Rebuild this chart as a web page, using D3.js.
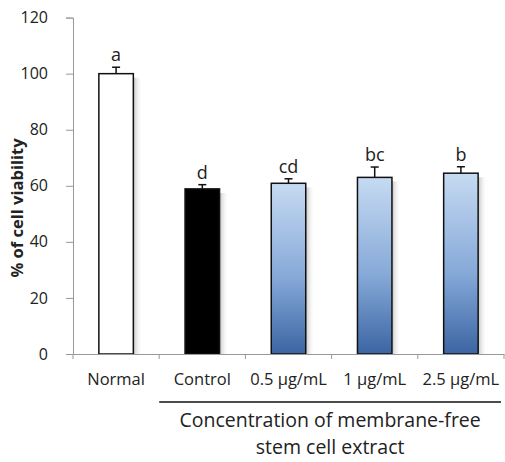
<!DOCTYPE html>
<html lang="en">
<head>
<meta charset="utf-8">
<title>Cell viability</title>
<script src="https://cdn.jsdelivr.net/npm/d3@7"></script>
<style>
  body { margin: 0; background: #fff; }
  text { font-family: "Open Sans", "DejaVu Sans", sans-serif; fill: #222; }
</style>
</head>
<body>
<script>
    // data
    var categories = ["Normal", "Control", "0.5 μg/mL", "1 μg/mL", "2.5 μg/mL"];
    var viability = [100, 58.9, 60.9, 63.0, 64.5];
    var errors = [2.3, 1.5, 1.6, 3.7, 2.3];
    var letters = ["a", "d", "cd", "bc", "b"];
    var yTicks = [0, 20, 40, 60, 80, 100, 120];

    var width = 505, height = 462;
    var margin = { left: 73, right: 1, top: 17.6, bottom: 108 };

    var svg = d3.select("body").append("svg")
        .attr("width", width)
        .attr("height", height);

    var x = d3.scaleBand()
        .domain(categories)
        .range([margin.left, width - margin.right])
        .paddingInner(0.6)
        .paddingOuter(0.3);

    var y = d3.scaleLinear()
        .domain([0, 120])
        .range([height - margin.bottom, margin.top]);

    var defs = svg.append("defs");
    var grad = defs.append("linearGradient")
        .attr("id", "blue").attr("x1", 0).attr("y1", 0).attr("x2", 0).attr("y2", 1);
    grad.append("stop").attr("offset", "0%").attr("stop-color", "#c6daf2");
    grad.append("stop").attr("offset", "55%").attr("stop-color", "#86a9d8");
    grad.append("stop").attr("offset", "100%").attr("stop-color", "#3b65a3");

    var shadow = defs.append("linearGradient")
        .attr("id", "shadow").attr("x1", 0).attr("y1", 0).attr("x2", 1).attr("y2", 0);
    shadow.append("stop").attr("offset", "0%").attr("stop-color", "#aaa").attr("stop-opacity", 0.7);
    shadow.append("stop").attr("offset", "100%").attr("stop-color", "#fff").attr("stop-opacity", 0);

    function fillFor(i) {
        if (i == 0) return "#fff";
        if (i == 1) return "#000";
        return "url(#blue)";
    }

    var bars = svg.append("g");

    // soft shadow on the right of each bar
    bars.selectAll(".shadow")
        .data(viability)
        .enter()
        .append("rect")
        .attr("x", function (d, i) { return x(categories[i]) + x.bandwidth(); })
        .attr("y", function (d) { return y(d) + 4; })
        .attr("width", 9)
        .attr("height", function (d) { return y(0) - y(d) - 4; })
        .attr("fill", "url(#shadow)");

    bars.selectAll(".bar")
        .data(viability)
        .enter()
        .append("rect")
        .attr("x", function (d, i) { return x(categories[i]); })
        .attr("y", function (d) { return y(d); })
        .attr("width", x.bandwidth())
        .attr("height", function (d) { return y(0) - y(d); })
        .attr("fill", function (d, i) { return fillFor(i); })
        .attr("stroke", "#111")
        .attr("stroke-width", 1.5);

    // error bars (upper only)
    var err = svg.append("g").attr("stroke", "#111").attr("stroke-width", 1.5);
    viability.forEach(function (d, i) {
        var cx = x(categories[i]) + x.bandwidth() / 2;
        err.append("line")
            .attr("x1", cx).attr("x2", cx)
            .attr("y1", y(d)).attr("y2", y(d + errors[i]));
        err.append("line")
            .attr("x1", cx - 4).attr("x2", cx + 4)
            .attr("y1", y(d + errors[i])).attr("y2", y(d + errors[i]));
    });

    svg.append("g").selectAll("text")
        .data(letters)
        .enter()
        .append("text")
        .attr("x", function (d, i) { return x(categories[i]) + x.bandwidth() / 2; })
        .attr("y", function (d, i) { return y(viability[i] + errors[i]) - 6; })
        .attr("text-anchor", "middle")
        .style("font-size", "18px")
        .text(function (d) { return d; });

    // axes
    var yAxis = svg.append("g")
        .attr("transform", "translate(" + margin.left + ",0)")
        .call(d3.axisLeft(y).tickValues(yTicks).tickSize(7).tickPadding(18));
    yAxis.selectAll("text").style("font-size", "16px").attr("fill", "#222");

    var xAxis = svg.append("g")
        .attr("transform", "translate(0," + y(0) + ")")
        .call(d3.axisBottom(x).tickSize(0).tickPadding(19));
    xAxis.selectAll("text").style("font-size", "16.5px").attr("fill", "#222");

    // tick marks at band boundaries
    var bounds = categories.map(function (c) { return x(c) - x.step() * x.paddingInner() / 2; });
    bounds.push(width - margin.right);
    xAxis.selectAll(".bound")
        .data(bounds)
        .enter()
        .append("line")
        .attr("x1", function (d) { return d; }).attr("x2", function (d) { return d; })
        .attr("y1", 0).attr("y2", 5)
        .attr("stroke", "#999");

    svg.selectAll(".domain").attr("stroke", "#999");
    svg.selectAll(".tick line").attr("stroke", "#999");

    svg.append("text")
        .attr("transform", "translate(23,208)rotate(-90)")
        .attr("text-anchor", "middle")
        .style("font-size", "16.5px")
        .style("font-weight", "bold")
        .text("% of cell viability");

    // group bracket for the treatment categories
    svg.append("line")
        .attr("x1", bounds[1]).attr("x2", width - 4)
        .attr("y1", 402).attr("y2", 402)
        .attr("stroke", "#111").attr("stroke-width", 1.5);

    var groupX = (bounds[1] + width - 4) / 2;
    svg.append("text")
        .attr("x", groupX).attr("y", 427)
        .attr("text-anchor", "middle")
        .style("font-size", "19.5px")
        .text("Concentration of membrane-free");
    svg.append("text")
        .attr("x", groupX).attr("y", 454)
        .attr("text-anchor", "middle")
        .style("font-size", "19.5px")
        .text("stem cell extract");
</script>
</body>
</html>
